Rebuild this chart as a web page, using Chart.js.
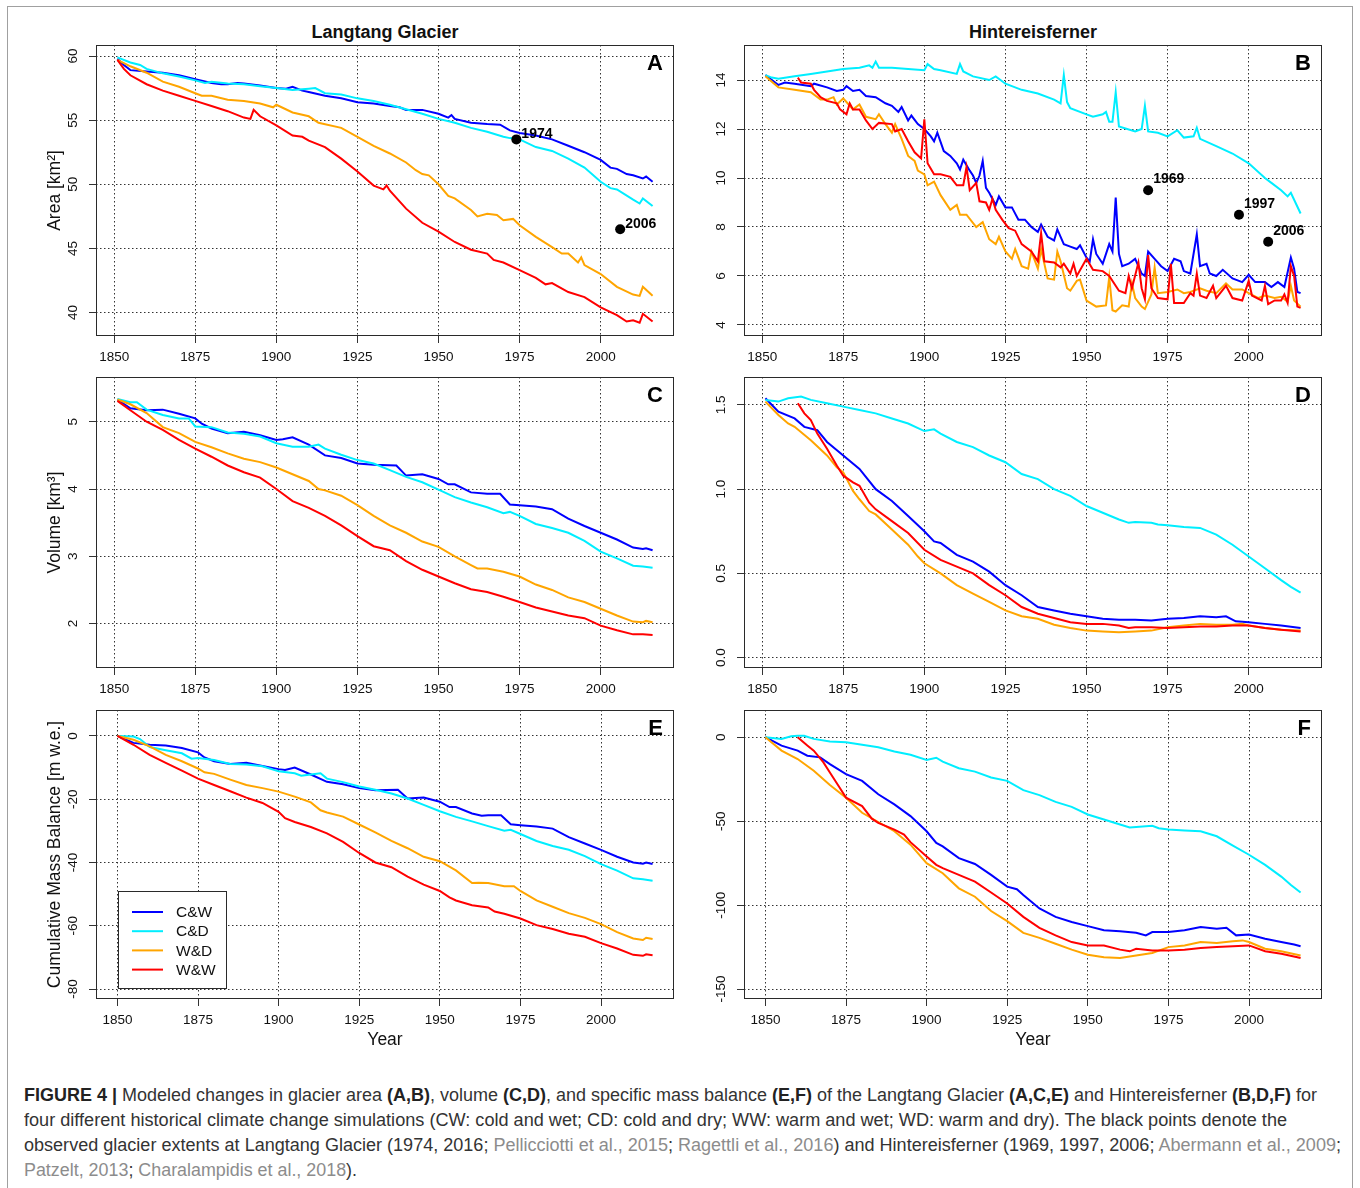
<!DOCTYPE html>
<html lang="en">
<head>
<meta charset="UTF-8">
<title>Figure 4 - Modeled glacier changes</title>
<script src="https://cdn.jsdelivr.net/npm/chart.js"></script>
<style>
  body { margin: 0; width: 1360px; height: 1188px; overflow: hidden; position: relative; background: #fff;
         font-family: 'Liberation Sans', Arial, Helvetica, sans-serif; }
  .frame { position: absolute; left: 7px; top: 6px; width: 1344px; height: 1260px; border: 1.5px solid #a0a0a0; }
  canvas { position: absolute; }
  .gtitle { position: absolute; top: 21px; width: 400px; text-align: center; font-weight: bold; font-size: 18px; line-height: 22px; color: #111; }
  .cap { position: absolute; left: 24px; white-space: nowrap; font-size: 17.5px; line-height: 20px; color: #333; transform-origin: 0 0; }
  .cap b { color: #222; }
  .cite { color: #8c8c8c; }
</style>
</head>
<body>
<div class="frame"></div>
<div class="gtitle" style="left:185px">Langtang Glacier</div>
<div class="gtitle" style="left:833px">Hintereisferner</div>

<canvas id="pA"></canvas>
<canvas id="pB"></canvas>
<canvas id="pC"></canvas>
<canvas id="pD"></canvas>
<canvas id="pE"></canvas>
<canvas id="pF"></canvas>

<div class="cap" id="cap1" data-w="1293" style="top:1085px"><b>FIGURE 4 |</b> Modeled changes in glacier area <b>(A,B)</b>, volume <b>(C,D)</b>, and specific mass balance <b>(E,F)</b> of the Langtang Glacier <b>(A,C,E)</b> and Hintereisferner <b>(B,D,F)</b> for</div>
<div class="cap" id="cap2" data-w="1263" style="top:1110px">four different historical climate change simulations (CW: cold and wet; CD: cold and dry; WW: warm and wet; WD: warm and dry). The black points denote the</div>
<div class="cap" id="cap3" data-w="1317" style="top:1135px">observed glacier extents at Langtang Glacier (1974, 2016; <span class="cite">Pellicciotti et al., 2015</span>; <span class="cite">Ragettli et al., 2016</span>) and Hintereisferner (1969, 1997, 2006; <span class="cite">Abermann et al., 2009</span>;</div>
<div class="cap" id="cap4" data-w="333" style="top:1160px"><span class="cite">Patzelt, 2013</span>; <span class="cite">Charalampidis et al., 2018</span>).</div>

<script>
const FONT = "'Liberation Sans', Arial, Helvetica, sans-serif";

// scenario names and colours (legend order)
const scenarios = ['C&W', 'C&D', 'W&D', 'W&W'];
const scenarioColors = ['#0000ff', '#00eeff', '#ffa500', '#ff0000'];
const yearTicks = [1850, 1875, 1900, 1925, 1950, 1975, 2000];

// ---- A: Langtang area [km2] ----
const langAreaCW = [[1851,59.8],[1853,59.3],[1855,58.9],[1860,58.8],[1865,58.7],[1870,58.5],[1875,58.2],[1880,57.9],[1883,57.8],[1885,57.8],[1888,57.9],[1890,57.85],[1895,57.7],[1900,57.5],[1903,57.45],[1905,57.6],[1908,57.3],[1910,57.2],[1915,56.9],[1920,56.7],[1925,56.4],[1930,56.3],[1935,56.1],[1938,56.0],[1940,55.8],[1945,55.8],[1950,55.5],[1953,55.2],[1954,55.4],[1955,55.1],[1960,54.8],[1965,54.7],[1969,54.65],[1972,54.2],[1975,54.0],[1980,53.8],[1985,53.5],[1990,53.0],[1995,52.5],[2000,51.9],[2003,51.3],[2005,51.2],[2008,50.8],[2010,50.7],[2013,50.45],[2014,50.6],[2016,50.2]];
const langAreaCD = [[1851,59.9],[1855,59.5],[1858,59.3],[1860,59.0],[1865,58.65],[1870,58.4],[1875,58.1],[1878,57.9],[1880,58.0],[1885,57.85],[1890,57.8],[1895,57.65],[1900,57.5],[1905,57.35],[1910,57.45],[1912,57.5],[1915,57.1],[1920,57.0],[1925,56.7],[1930,56.5],[1935,56.2],[1940,55.85],[1945,55.5],[1950,55.1],[1955,54.8],[1960,54.4],[1965,54.1],[1970,53.7],[1972,53.6],[1975,53.5],[1980,52.9],[1985,52.6],[1990,52.0],[1995,51.3],[2000,50.2],[2003,49.7],[2005,49.6],[2010,48.8],[2012,48.5],[2013,48.9],[2016,48.3]];
const langAreaWD = [[1851,59.7],[1855,59.2],[1860,58.7],[1865,58.0],[1870,57.6],[1875,57.1],[1877,56.9],[1880,56.9],[1885,56.6],[1890,56.5],[1895,56.3],[1899,56.0],[1900,56.2],[1905,55.6],[1910,55.3],[1913,54.8],[1920,54.4],[1925,53.7],[1930,53.0],[1935,52.4],[1940,51.7],[1943,51.1],[1945,50.8],[1947,50.7],[1950,50.0],[1953,49.1],[1955,48.9],[1960,48.0],[1962,47.5],[1965,47.7],[1968,47.6],[1970,47.2],[1973,47.3],[1975,46.8],[1980,45.9],[1985,45.1],[1988,44.6],[1990,44.6],[1993,43.9],[1994,44.3],[1995,43.7],[2000,43.0],[2005,42.0],[2010,41.4],[2012,41.3],[2013,42.0],[2016,41.3]];
const langAreaWW = [[1851,59.7],[1853,59.0],[1855,58.5],[1860,57.8],[1865,57.3],[1870,56.9],[1875,56.5],[1880,56.1],[1885,55.7],[1890,55.2],[1892,55.1],[1893,55.8],[1895,55.3],[1900,54.6],[1905,53.8],[1908,53.7],[1910,53.4],[1915,52.9],[1920,52.0],[1925,51.0],[1930,49.9],[1933,49.6],[1934,49.9],[1935,49.5],[1940,48.1],[1945,47.0],[1950,46.3],[1955,45.5],[1960,44.9],[1965,44.6],[1967,44.1],[1970,43.9],[1975,43.3],[1980,42.7],[1983,42.2],[1985,42.3],[1990,41.6],[1995,41.2],[2000,40.4],[2005,39.8],[2008,39.3],[2010,39.4],[2012,39.2],[2013,39.9],[2016,39.3]];
const langAreaObs = [[1974,53.5],[2006,46.5]];
const langAreaTicks = [40, 45, 50, 55, 60];

// ---- B: Hintereisferner area [km2] ----
const hintAreaCW = [[1851,14.2],[1855,13.8],[1857,13.9],[1860,13.85],[1865,13.75],[1866,13.85],[1870,13.7],[1873,13.55],[1875,13.6],[1876,13.75],[1878,13.55],[1880,13.6],[1882,13.35],[1885,13.3],[1888,13.05],[1890,12.95],[1892,12.7],[1893,12.9],[1895,12.35],[1896,12.55],[1898,12.2],[1900,12.0],[1902,11.7],[1903,11.5],[1904,11.85],[1906,11.1],[1908,10.9],[1910,10.6],[1911,10.35],[1912,10.75],[1914,10.3],[1915,10.1],[1916,9.8],[1917,10.1],[1918,10.7],[1919,9.6],[1920,9.4],[1922,8.9],[1923,9.25],[1925,8.8],[1927,8.8],[1929,8.3],[1931,8.3],[1933,8.0],[1935,7.8],[1936,8.1],[1938,7.6],[1940,7.45],[1941,7.9],[1943,7.3],[1945,7.2],[1947,7.1],[1948,7.25],[1950,6.75],[1951,6.6],[1952,7.5],[1953,6.9],[1955,6.5],[1957,7.3],[1958,7.0],[1959,9.2],[1960,6.9],[1961,6.4],[1963,6.5],[1965,6.7],[1966,6.4],[1967,6.1],[1968,6.0],[1969,7.0],[1971,6.7],[1973,6.4],[1975,6.2],[1977,6.7],[1979,6.6],[1980,6.2],[1982,6.1],[1984,7.7],[1985,6.4],[1987,6.5],[1988,6.1],[1990,6.0],[1992,6.25],[1995,5.9],[1998,5.75],[2000,6.05],[2002,5.75],[2005,5.75],[2007,5.55],[2009,5.75],[2011,5.55],[2013,6.75],[2014,6.3],[2015,5.35],[2016,5.3]];
const hintAreaCD = [[1851,14.2],[1853,14.1],[1855,14.05],[1860,14.15],[1865,14.25],[1870,14.35],[1875,14.45],[1880,14.5],[1883,14.6],[1884,14.5],[1885,14.75],[1886,14.5],[1890,14.5],[1895,14.45],[1900,14.4],[1901,14.65],[1903,14.45],[1905,14.4],[1910,14.25],[1911,14.65],[1912,14.35],[1915,14.15],[1920,14.0],[1922,14.15],[1925,13.85],[1930,13.6],[1935,13.45],[1940,13.2],[1942,13.05],[1943,14.2],[1944,13.1],[1945,12.85],[1950,12.6],[1952,12.5],[1955,12.6],[1956,12.7],[1957,12.3],[1958,12.3],[1959,13.5],[1960,12.1],[1965,11.9],[1967,12.0],[1968,12.95],[1969,11.9],[1972,11.85],[1975,11.7],[1978,11.95],[1980,11.65],[1983,11.7],[1984,12.05],[1985,11.6],[1990,11.3],[1995,11.0],[2000,10.6],[2005,10.0],[2007,9.8],[2010,9.5],[2012,9.25],[2013,9.4],[2016,8.55]];
const hintAreaWD = [[1851,14.15],[1855,13.7],[1860,13.6],[1865,13.5],[1868,13.2],[1870,13.2],[1872,13.3],[1873,13.0],[1875,13.25],[1877,12.95],[1878,12.8],[1880,13.0],[1882,12.5],[1885,12.4],[1886,12.6],[1888,12.2],[1890,11.85],[1891,12.2],[1893,11.6],[1895,10.9],[1897,10.7],[1898,10.3],[1900,10.15],[1901,9.7],[1903,9.85],[1905,9.3],[1908,8.7],[1910,8.9],[1911,8.5],[1913,8.5],[1916,8.0],[1918,8.2],[1920,7.5],[1922,7.3],[1923,7.6],[1925,7.0],[1927,6.7],[1928,7.1],[1930,6.4],[1932,6.3],[1933,7.0],[1935,6.3],[1936,7.1],[1938,5.9],[1940,5.85],[1941,7.0],[1942,6.6],[1944,5.5],[1945,5.4],[1947,5.8],[1948,5.85],[1950,5.0],[1953,4.75],[1956,4.8],[1957,5.95],[1958,4.6],[1959,4.55],[1961,4.8],[1963,4.75],[1964,5.7],[1965,5.1],[1967,4.75],[1968,4.65],[1970,5.25],[1971,6.35],[1972,5.3],[1975,5.35],[1978,5.45],[1980,5.3],[1982,5.35],[1985,5.5],[1987,5.4],[1990,5.3],[1993,5.7],[1995,5.45],[1998,5.45],[2000,5.3],[2003,5.1],[2005,5.2],[2008,5.1],[2010,5.15],[2012,4.95],[2013,5.6],[2014,5.0],[2016,4.75]];
const hintAreaWW = [[1861,14.1],[1862,13.9],[1865,13.85],[1866,13.6],[1868,13.3],[1870,13.15],[1873,13.05],[1874,12.8],[1876,12.6],[1877,13.05],[1878,12.8],[1880,12.8],[1882,12.35],[1884,12.0],[1886,12.25],[1890,12.2],[1891,11.9],[1893,12.0],[1895,11.5],[1897,11.05],[1899,10.8],[1900,12.4],[1901,10.6],[1903,10.15],[1905,10.15],[1908,10.05],[1910,9.7],[1912,9.7],[1913,10.45],[1914,9.5],[1916,9.8],[1917,9.05],[1919,9.0],[1920,8.7],[1921,9.15],[1922,8.7],[1924,8.3],[1926,7.95],[1928,7.85],[1930,7.3],[1933,7.0],[1935,6.6],[1936,7.75],[1937,6.6],[1940,6.55],[1942,6.35],[1943,6.5],[1945,6.1],[1946,6.5],[1947,6.0],[1950,6.7],[1952,6.25],[1955,6.2],[1957,6.0],[1960,5.4],[1962,5.3],[1963,6.0],[1964,5.5],[1966,6.55],[1967,5.5],[1968,5.05],[1969,6.85],[1970,5.5],[1972,5.1],[1975,5.05],[1976,6.5],[1977,4.9],[1980,4.9],[1982,5.3],[1983,5.2],[1984,6.1],[1985,5.2],[1987,5.1],[1989,5.6],[1990,5.1],[1993,5.6],[1995,5.1],[1998,5.0],[2000,5.8],[2001,5.2],[2004,5.0],[2005,5.6],[2006,4.85],[2008,5.0],[2010,5.0],[2011,5.25],[2012,4.9],[2013,6.4],[2014,6.0],[2015,4.75],[2016,4.7]];
const hintAreaObs = [[1969,9.5],[1997,8.5],[2006,7.4]];
const hintAreaTicks = [4, 6, 8, 10, 12, 14];

// ---- C: Langtang volume [km3] ----
const langVolCW = [[1851,5.33],[1855,5.2],[1860,5.17],[1865,5.18],[1870,5.12],[1875,5.05],[1877,4.97],[1880,4.9],[1885,4.83],[1890,4.85],[1895,4.8],[1900,4.73],[1902,4.74],[1905,4.77],[1910,4.66],[1915,4.5],[1920,4.46],[1925,4.38],[1930,4.36],[1937,4.35],[1940,4.2],[1945,4.22],[1950,4.15],[1953,4.07],[1955,4.07],[1960,3.95],[1965,3.93],[1969,3.93],[1972,3.77],[1975,3.76],[1980,3.74],[1985,3.7],[1990,3.56],[1995,3.45],[2000,3.35],[2005,3.25],[2010,3.13],[2013,3.11],[2014,3.12],[2016,3.09]];
const langVolCD = [[1851,5.34],[1855,5.29],[1857,5.29],[1860,5.18],[1865,5.1],[1870,5.05],[1873,5.05],[1875,4.93],[1880,4.92],[1885,4.84],[1890,4.82],[1895,4.78],[1900,4.68],[1905,4.63],[1910,4.63],[1913,4.66],[1915,4.6],[1920,4.51],[1925,4.43],[1930,4.38],[1935,4.28],[1940,4.18],[1945,4.1],[1950,3.99],[1955,3.88],[1960,3.8],[1965,3.73],[1970,3.64],[1972,3.66],[1975,3.6],[1980,3.48],[1985,3.42],[1990,3.35],[1995,3.23],[2000,3.07],[2005,2.97],[2010,2.86],[2013,2.85],[2016,2.83]];
const langVolWD = [[1851,5.33],[1855,5.26],[1860,5.13],[1865,4.92],[1870,4.83],[1875,4.7],[1880,4.62],[1885,4.53],[1890,4.45],[1895,4.4],[1900,4.32],[1905,4.22],[1910,4.12],[1913,4.0],[1915,3.98],[1920,3.9],[1925,3.76],[1930,3.6],[1935,3.46],[1940,3.35],[1945,3.22],[1950,3.14],[1955,3.0],[1960,2.87],[1962,2.82],[1965,2.82],[1970,2.77],[1975,2.7],[1980,2.58],[1985,2.5],[1990,2.39],[1995,2.32],[2000,2.22],[2005,2.12],[2010,2.03],[2013,2.02],[2014,2.04],[2016,2.02]];
const langVolWW = [[1851,5.31],[1855,5.17],[1860,5.0],[1865,4.88],[1870,4.73],[1875,4.6],[1880,4.48],[1885,4.35],[1890,4.25],[1895,4.17],[1900,4.0],[1905,3.82],[1910,3.72],[1915,3.6],[1920,3.46],[1925,3.3],[1930,3.15],[1935,3.09],[1940,2.93],[1945,2.8],[1950,2.7],[1955,2.6],[1960,2.51],[1965,2.47],[1970,2.4],[1975,2.32],[1980,2.24],[1985,2.18],[1990,2.12],[1995,2.08],[2000,1.97],[2005,1.9],[2010,1.84],[2013,1.84],[2016,1.83]];
const langVolTicks = [2, 3, 4, 5];

// ---- D: Hintereisferner volume [km3] ----
const hintVolCW = [[1851,1.54],[1855,1.46],[1860,1.42],[1863,1.37],[1867,1.35],[1870,1.28],[1875,1.2],[1880,1.12],[1885,1.0],[1890,0.93],[1895,0.84],[1900,0.75],[1903,0.69],[1905,0.68],[1910,0.61],[1915,0.57],[1920,0.51],[1925,0.43],[1930,0.37],[1935,0.3],[1940,0.28],[1945,0.26],[1950,0.245],[1955,0.23],[1960,0.225],[1965,0.225],[1970,0.22],[1975,0.23],[1980,0.235],[1985,0.245],[1990,0.24],[1993,0.245],[1996,0.215],[2000,0.21],[2005,0.2],[2010,0.19],[2016,0.175]];
const hintVolCD = [[1851,1.53],[1855,1.52],[1858,1.54],[1862,1.55],[1865,1.53],[1870,1.51],[1875,1.49],[1880,1.47],[1885,1.45],[1890,1.42],[1895,1.39],[1900,1.345],[1903,1.355],[1905,1.33],[1910,1.28],[1915,1.25],[1920,1.2],[1925,1.16],[1930,1.09],[1935,1.06],[1940,1.0],[1945,0.96],[1950,0.9],[1955,0.86],[1960,0.82],[1963,0.8],[1965,0.805],[1970,0.8],[1972,0.79],[1975,0.785],[1980,0.775],[1985,0.77],[1990,0.73],[1995,0.67],[2000,0.6],[2005,0.53],[2010,0.46],[2013,0.42],[2016,0.385]];
const hintVolWD = [[1851,1.52],[1855,1.44],[1858,1.39],[1860,1.37],[1865,1.29],[1870,1.2],[1873,1.13],[1875,1.1],[1878,0.99],[1880,0.94],[1883,0.87],[1885,0.85],[1890,0.76],[1895,0.67],[1898,0.6],[1900,0.56],[1905,0.5],[1910,0.43],[1915,0.38],[1920,0.33],[1925,0.28],[1930,0.245],[1935,0.23],[1940,0.195],[1945,0.175],[1950,0.16],[1955,0.155],[1960,0.15],[1965,0.155],[1970,0.16],[1975,0.18],[1980,0.19],[1985,0.2],[1990,0.195],[1995,0.195],[1998,0.2],[2000,0.19],[2005,0.175],[2010,0.165],[2016,0.16]];
const hintVolWW = [[1861,1.51],[1863,1.45],[1865,1.41],[1867,1.33],[1870,1.24],[1873,1.14],[1875,1.08],[1878,1.04],[1880,1.02],[1883,0.92],[1885,0.88],[1890,0.81],[1895,0.74],[1900,0.64],[1905,0.58],[1910,0.54],[1915,0.5],[1920,0.43],[1925,0.37],[1930,0.3],[1935,0.26],[1940,0.235],[1945,0.21],[1950,0.2],[1955,0.2],[1960,0.19],[1963,0.175],[1965,0.18],[1970,0.18],[1975,0.175],[1980,0.18],[1985,0.185],[1990,0.185],[1995,0.19],[2000,0.19],[2005,0.175],[2010,0.165],[2016,0.155]];
const hintVolTicks = [0, 0.5, 1, 1.5];
const hintVolTickLabels = ['0.0', '0.5', '1.0', '1.5'];

// ---- E: Langtang cumulative mass balance [m w.e.] ----
const langMbCW = [[1850,0],[1855,-2.2],[1860,-2.8],[1865,-3.0],[1870,-3.8],[1875,-5.2],[1877,-6.8],[1880,-8.0],[1885,-8.9],[1890,-8.5],[1895,-9.5],[1900,-10.5],[1902,-10.8],[1905,-10.0],[1910,-12.2],[1915,-14.5],[1920,-15.3],[1925,-16.5],[1930,-17.2],[1937,-17.0],[1940,-19.8],[1945,-19.5],[1950,-20.8],[1953,-22.5],[1955,-22.5],[1960,-24.5],[1963,-25.2],[1965,-25.1],[1969,-25.1],[1972,-27.9],[1975,-28.2],[1980,-28.6],[1985,-29.3],[1990,-32.0],[1995,-34.0],[2000,-36.0],[2005,-38.2],[2010,-40.0],[2013,-40.4],[2014,-40.0],[2016,-40.5]];
const langMbCD = [[1850,0],[1855,-0.2],[1857,-1.0],[1860,-3.5],[1865,-4.5],[1870,-5.5],[1873,-7.2],[1875,-7.0],[1880,-7.6],[1885,-8.9],[1890,-9.0],[1895,-9.6],[1900,-11.2],[1905,-11.8],[1907,-12.6],[1910,-12.2],[1913,-11.8],[1915,-13.5],[1920,-14.6],[1925,-16.0],[1930,-17.0],[1935,-18.2],[1940,-19.8],[1945,-21.8],[1950,-23.8],[1955,-25.6],[1960,-27.0],[1965,-28.5],[1970,-30.0],[1972,-29.7],[1975,-31.0],[1980,-33.2],[1985,-34.8],[1990,-36.0],[1995,-38.0],[2000,-40.5],[2005,-42.6],[2010,-45.0],[2013,-45.3],[2016,-45.8]];
const langMbWD = [[1850,0],[1855,-1.2],[1860,-3.3],[1865,-6.0],[1870,-8.0],[1875,-10.3],[1877,-11.5],[1880,-12.0],[1885,-13.8],[1890,-15.5],[1895,-16.5],[1900,-17.6],[1905,-19.2],[1910,-21.0],[1913,-23.5],[1915,-24.2],[1920,-25.5],[1925,-28.0],[1930,-30.5],[1935,-33.2],[1940,-35.5],[1945,-38.2],[1950,-39.6],[1955,-42.5],[1960,-46.5],[1962,-46.4],[1965,-46.5],[1970,-47.5],[1973,-47.5],[1975,-49.0],[1980,-52.0],[1985,-54.0],[1990,-56.0],[1995,-57.5],[2000,-59.5],[2005,-62.0],[2010,-64.0],[2013,-64.5],[2014,-63.8],[2016,-64.2]];
const langMbWW = [[1850,0],[1855,-2.8],[1860,-6.0],[1865,-8.5],[1870,-11.0],[1875,-13.5],[1880,-15.5],[1885,-17.5],[1890,-19.5],[1895,-21.2],[1900,-24.0],[1902,-26.0],[1905,-27.2],[1910,-28.8],[1915,-30.8],[1920,-33.5],[1925,-37.0],[1930,-40.0],[1935,-41.5],[1940,-44.5],[1945,-47.0],[1950,-49.0],[1953,-51.0],[1955,-52.0],[1960,-53.5],[1965,-54.2],[1967,-55.5],[1970,-56.2],[1975,-57.7],[1980,-59.8],[1985,-61.0],[1990,-62.5],[1995,-63.5],[2000,-65.5],[2005,-67.2],[2010,-69.2],[2013,-69.5],[2014,-69.0],[2016,-69.3]];
const langMbTicks = [-80, -60, -40, -20, 0];

// ---- F: Hintereisferner cumulative mass balance [m w.e.] ----
const hintMbCW = [[1850,0],[1855,-5.0],[1860,-8.0],[1863,-11.0],[1867,-12.0],[1870,-16.0],[1875,-22.0],[1880,-26.0],[1885,-34.0],[1890,-40.0],[1895,-47.0],[1900,-56.0],[1903,-63.0],[1905,-65.0],[1910,-72.0],[1915,-75.5],[1920,-82.0],[1925,-89.0],[1928,-90.5],[1930,-94.0],[1935,-102.0],[1940,-107.0],[1945,-110.0],[1950,-112.5],[1955,-115.0],[1960,-115.5],[1965,-116.5],[1968,-118.0],[1970,-116.0],[1975,-116.0],[1980,-115.0],[1985,-113.0],[1990,-114.0],[1993,-113.5],[1996,-118.0],[2000,-117.5],[2005,-120.0],[2010,-122.0],[2014,-123.5],[2016,-124.5]];
const hintMbCD = [[1850,0],[1855,-1.0],[1858,0.5],[1860,0.8],[1862,0.8],[1865,-1.0],[1870,-2.5],[1875,-3.0],[1880,-4.5],[1885,-6.0],[1890,-8.5],[1895,-10.5],[1900,-13.5],[1903,-12.2],[1905,-14.5],[1910,-18.5],[1915,-20.5],[1920,-24.0],[1925,-26.0],[1930,-31.5],[1935,-34.5],[1940,-38.5],[1945,-41.5],[1950,-46.0],[1955,-49.0],[1960,-52.0],[1963,-53.7],[1965,-53.5],[1970,-52.8],[1972,-54.2],[1975,-55.0],[1980,-55.5],[1985,-56.0],[1990,-59.0],[1995,-64.5],[2000,-70.0],[2005,-76.0],[2010,-83.0],[2013,-88.0],[2016,-92.5]];
const hintMbWD = [[1850,0],[1855,-8.0],[1860,-13.0],[1865,-20.0],[1870,-28.5],[1875,-36.0],[1880,-45.0],[1885,-50.5],[1890,-56.0],[1895,-64.0],[1900,-75.0],[1905,-81.0],[1910,-90.0],[1915,-95.0],[1920,-103.5],[1925,-109.5],[1930,-116.5],[1935,-119.5],[1940,-123.0],[1945,-126.5],[1950,-129.5],[1955,-131.0],[1960,-131.5],[1965,-130.0],[1970,-128.5],[1975,-125.0],[1980,-124.0],[1985,-122.0],[1990,-122.5],[1995,-121.5],[1998,-121.0],[2000,-122.0],[2005,-126.0],[2010,-127.5],[2016,-130.0]];
const hintMbWW = [[1860,0],[1863,-5.0],[1865,-8.0],[1868,-15.0],[1870,-21.0],[1873,-30.0],[1875,-36.0],[1880,-41.0],[1883,-48.5],[1885,-51.0],[1890,-55.0],[1893,-58.0],[1895,-62.5],[1900,-71.0],[1903,-76.0],[1905,-78.0],[1910,-82.0],[1915,-86.0],[1920,-92.5],[1925,-99.0],[1930,-107.0],[1935,-113.5],[1940,-118.0],[1945,-122.0],[1950,-124.0],[1955,-124.0],[1960,-126.5],[1963,-127.5],[1965,-126.0],[1970,-127.0],[1975,-127.0],[1980,-126.5],[1985,-125.5],[1990,-125.0],[1995,-124.5],[2000,-124.0],[2005,-127.5],[2010,-129.0],[2015,-131.0],[2016,-131.5]];
const hintMbTicks = [-150, -100, -50, 0];

// draws box, rotated y labels, axis titles, panel letters, point labels, legend
const deco = {
  id: 'deco',
  afterDraw(chart, args, o) {
    const ctx = chart.ctx, ca = chart.chartArea, ys = chart.scales.y, xs = chart.scales.x;
    ctx.save();
    ctx.strokeStyle = '#2a2a2a';
    ctx.lineWidth = 1;
    ctx.strokeRect(ca.left + 0.5, ca.top + 0.5, ca.right - ca.left - 1, ca.bottom - ca.top - 1);

    ctx.fillStyle = '#111';
    ctx.font = '13.5px ' + FONT;
    ctx.textAlign = 'center';
    ctx.textBaseline = 'alphabetic';
    o.yTicks.forEach((v, i) => {
      ctx.save();
      ctx.translate(ca.left - 19, ys.getPixelForValue(v));
      ctx.rotate(-Math.PI / 2);
      ctx.fillText(o.yTickLabels ? o.yTickLabels[i] : String(v), 0, 0);
      ctx.restore();
    });

    if (o.yTitle) {
      ctx.save();
      ctx.font = '17.5px ' + FONT;
      ctx.textBaseline = 'middle';
      ctx.translate(o.yTitleX, (ca.top + ca.bottom) / 2);
      ctx.rotate(-Math.PI / 2);
      ctx.fillText(o.yTitle, 0, 0);
      ctx.restore();
    }
    if (o.xTitle) {
      ctx.font = '17.5px ' + FONT;
      ctx.textBaseline = 'middle';
      ctx.fillText(o.xTitle, (ca.left + ca.right) / 2, ca.bottom + 41);
    }

    ctx.font = 'bold 22px ' + FONT;
    ctx.textAlign = 'right';
    ctx.textBaseline = 'alphabetic';
    ctx.fillStyle = '#000';
    ctx.fillText(o.letter, ca.right - 11, ca.top + 25);

    if (o.obs) {
      ctx.font = 'bold 14px ' + FONT;
      ctx.textAlign = 'left';
      o.obs.forEach(p => {
        ctx.fillText(String(p[0]), xs.getPixelForValue(p[0]) + 5, ys.getPixelForValue(p[1]) - o.obsDy);
      });
    }

    if (o.legend) {
      const lx = ca.left + 22, ly = ca.bottom - 108;
      ctx.fillStyle = '#fff';
      ctx.fillRect(lx, ly, 108, 97);
      ctx.strokeStyle = '#2a2a2a';
      ctx.strokeRect(lx + 0.5, ly + 0.5, 108, 97);
      ctx.font = '15.5px ' + FONT;
      ctx.textBaseline = 'middle';
      ctx.textAlign = 'left';
      scenarios.forEach((name, i) => {
        const y = ly + 21 + i * 19.2;
        ctx.strokeStyle = scenarioColors[i];
        ctx.lineWidth = 2;
        ctx.beginPath();
        ctx.moveTo(lx + 14, y);
        ctx.lineTo(lx + 45, y);
        ctx.stroke();
        ctx.fillStyle = '#111';
        ctx.fillText(name, lx + 58, y + 1);
      });
    }
    ctx.restore();
  }
};

function toXY(pairs) {
  return pairs.map(p => ({ x: p[0], y: p[1] }));
}

function makePanel(p) {
  const [l, t, r, b] = p.box;
  const padLeft = 60, padTop = 25, padRight = 16, padBottom = p.xTitle ? 60 : 40;
  const canvas = document.getElementById(p.id);
  canvas.width = (r - l) + padLeft + padRight;
  canvas.height = (b - t) + padTop + padBottom;
  canvas.style.left = (l - padLeft) + 'px';
  canvas.style.top = (t - padTop) + 'px';

  // W&W drawn on top, C&W at the bottom
  const datasets = [];
  if (p.obs) {
    datasets.push({ data: toXY(p.obs), showLine: false, pointRadius: 5, pointBackgroundColor: '#000', pointBorderColor: '#000', pointBorderWidth: 0 });
  }
  [3, 2, 1, 0].forEach(i => {
    datasets.push({ label: scenarios[i], data: toXY(p.series[i]), borderColor: scenarioColors[i], borderWidth: 2, pointRadius: 0, tension: 0, fill: false });
  });

  const gridOpts = { color: '#333', lineWidth: 1, drawTicks: true, tickLength: 7, tickColor: '#333', tickWidth: 1, tickBorderDash: [] };
  const borderOpts = { display: false, dash: [1.5, 2.5] };

  new Chart(canvas, {
    type: 'line',
    data: { datasets },
    options: {
      responsive: false,
      animation: false,
      layout: { padding: { left: 0, top: padTop, right: padRight, bottom: 0 } },
      plugins: {
        legend: { display: false },
        tooltip: { enabled: false },
        deco: {
          yTicks: p.yTicks, yTickLabels: p.yTickLabels, yTitle: p.yTitle, yTitleX: 55 - (l - padLeft),
          xTitle: p.xTitle, letter: p.letter, obs: p.obs, obsDy: p.obsDy, legend: p.legend
        }
      },
      scales: {
        x: {
          type: 'linear', min: p.xRange[0], max: p.xRange[1],
          afterFit: s => { s.height = padBottom; },
          afterBuildTicks: s => { s.ticks = yearTicks.map(v => ({ value: v })); },
          ticks: { color: '#111', font: { size: 13.5, family: FONT }, padding: 6, maxRotation: 0, autoSkip: false, callback: v => String(v) },
          grid: gridOpts, border: borderOpts
        },
        y: {
          type: 'linear', min: p.yRange[0], max: p.yRange[1],
          afterFit: s => { s.width = padLeft; },
          afterBuildTicks: s => { s.ticks = p.yTicks.map(v => ({ value: v })); },
          ticks: { display: false },
          grid: gridOpts, border: borderOpts
        }
      }
    },
    plugins: [deco]
  });
}

const rangeAD = [1844.4, 2022.6];
const rangeEF = [1843.36, 2022.64];

const panels = [
  { id: 'pA', box: [96, 45, 674, 336], xRange: rangeAD, yRange: [38.17, 60.86], yTicks: langAreaTicks, yTitle: 'Area [km²]', letter: 'A',
    series: [langAreaCW, langAreaCD, langAreaWD, langAreaWW], obs: langAreaObs, obsDy: 1 },
  { id: 'pB', box: [744, 45, 1322, 336], xRange: rangeAD, yRange: [3.55, 15.43], yTicks: hintAreaTicks, letter: 'B',
    series: [hintAreaCW, hintAreaCD, hintAreaWD, hintAreaWW], obs: hintAreaObs, obsDy: 7 },
  { id: 'pC', box: [96, 377, 674, 668], xRange: rangeAD, yRange: [1.34, 5.665], yTicks: langVolTicks, yTitle: 'Volume [km³]', letter: 'C',
    series: [langVolCW, langVolCD, langVolWD, langVolWW] },
  { id: 'pD', box: [744, 377, 1322, 668], xRange: rangeAD, yRange: [-0.062, 1.666], yTicks: hintVolTicks, yTickLabels: hintVolTickLabels, letter: 'D',
    series: [hintVolCW, hintVolCD, hintVolWD, hintVolWW] },
  { id: 'pE', box: [96, 710, 674, 999], xRange: rangeEF, yRange: [-83.15, 8.19], yTicks: langMbTicks, yTitle: 'Cumulative Mass Balance [m w.e.]', letter: 'E',
    series: [langMbCW, langMbCD, langMbWD, langMbWW], xTitle: 'Year', legend: true },
  { id: 'pF', box: [744, 710, 1322, 999], xRange: rangeEF, yRange: [-155.9, 16.2], yTicks: hintMbTicks, letter: 'F',
    series: [hintMbCW, hintMbCD, hintMbWD, hintMbWW], xTitle: 'Year' }
];

panels.forEach(makePanel);

// fit the caption lines to the widths of the printed caption
document.querySelectorAll('.cap').forEach(el => {
  const w = el.getBoundingClientRect().width;
  el.style.transform = 'scaleX(' + (Number(el.dataset.w) / w).toFixed(4) + ')';
});
</script>
</body>
</html>
